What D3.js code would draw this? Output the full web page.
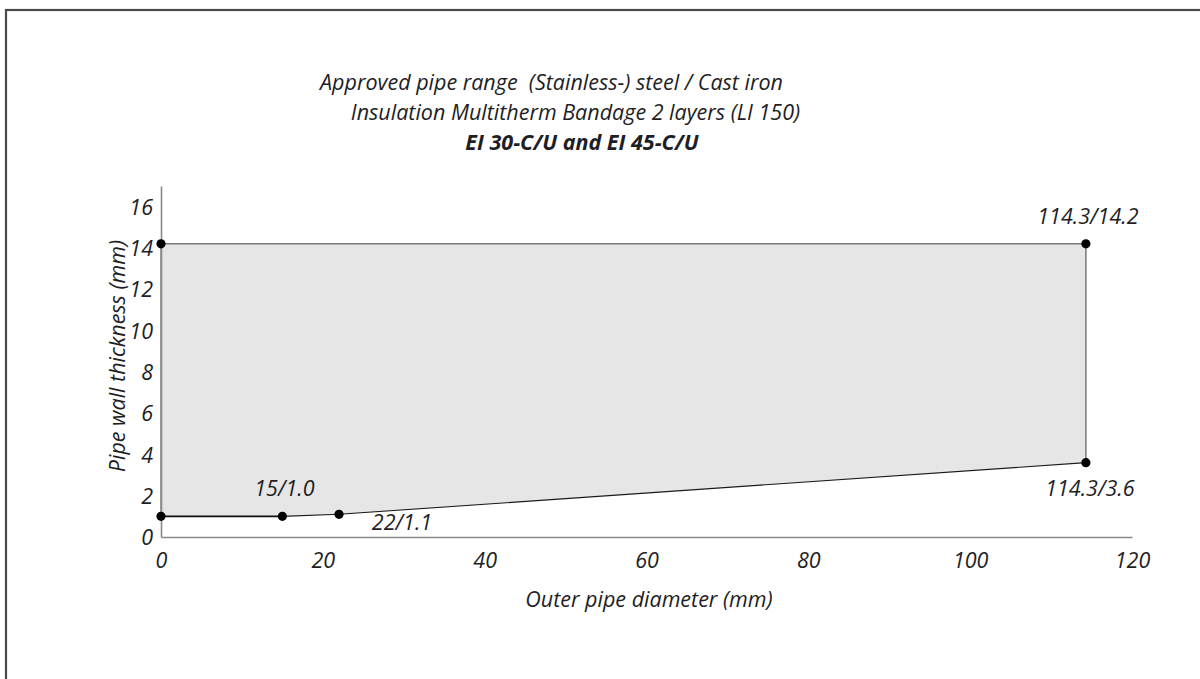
<!DOCTYPE html>
<html><head><meta charset="utf-8">
<script src="https://cdn.jsdelivr.net/npm/d3@7"></script>
<style>
html,body{margin:0;padding:0;background:#fff;}
svg{display:block;}
text{font-family:"Open Sans",sans-serif;font-style:italic;fill:#1e1e24;white-space:pre;}
</style></head>
<body>
<svg id="c" width="1200" height="679"></svg>
<script>
const titleLines = ["Approved pipe range  (Stainless-) steel / Cast iron", "Insulation Multitherm Bandage 2 layers (LI 150)", "EI 30-C/U and EI 45-C/U"];
const xLabel = "Outer pipe diameter (mm)";
const yLabel = "Pipe wall thickness (mm)";
const xTicks = [0, 20, 40, 60, 80, 100, 120];
const yTicks = [0, 2, 4, 6, 8, 10, 12, 14, 16];
// boundary of approved range: outer diameter / wall thickness
const diameters = [0, 15, 22, 114.3, 114.3, 0];
const thickness = [1.0, 1.0, 1.1, 3.6, 14.2, 14.2];
const pointLabels = ["", "15/1.0", "22/1.1", "114.3/3.6", "114.3/14.2", ""];

const svg = d3.select("#c");
const x = d3.scaleLinear().domain([0, 120]).range([161, 1132]);
const y = d3.scaleLinear().domain([0, 17]).range([537, 186]);
const FS = 21.5;

// frame
svg.append("rect").attr("x", 6).attr("y", 10).attr("width", 1300).attr("height", 800)
  .attr("fill", "none").attr("stroke", "#4a4a4a").attr("stroke-width", 2.2);

const pts = diameters.map((d, i) => ({x: d, y: thickness[i], label: pointLabels[i]}));

// filled region
svg.append("path").datum(pts)
  .attr("d", d3.line().x(d => x(d.x)).y(d => y(d.y)).curve(d3.curveLinearClosed))
  .attr("fill", "#e6e6e6").attr("stroke", "none");

// axes (no tick marks)
const xAxis = svg.append("g").attr("transform", `translate(0,${y(0)})`)
  .call(d3.axisBottom(x).tickValues(xTicks).tickSize(0).tickPadding(0).tickFormat(d3.format("d")));
xAxis.select(".domain").attr("stroke", "#8a8a8a").attr("stroke-width", 1.6);
xAxis.selectAll("text").attr("y", 31).attr("dy", 0).attr("font-size", FS)
  .style("font-family", "'Open Sans', sans-serif").style("font-style", "italic").attr("fill", "#1e1e24");

const yAxis = svg.append("g").attr("transform", `translate(${x(0)},0)`)
  .call(d3.axisLeft(y).tickValues(yTicks).tickSize(0).tickPadding(0).tickFormat(d3.format("d")));
yAxis.select(".domain").attr("stroke", "#8a8a8a").attr("stroke-width", 1.6);
yAxis.selectAll("text").attr("x", -8).attr("dy", "0.36em").attr("font-size", FS)
  .style("font-family", "'Open Sans', sans-serif").style("font-style", "italic").attr("fill", "#1e1e24");

// boundary edges
const seg = (a, b, col, w) => svg.append("line")
  .attr("x1", x(pts[a].x)).attr("y1", y(pts[a].y)).attr("x2", x(pts[b].x)).attr("y2", y(pts[b].y))
  .attr("stroke", col).attr("stroke-width", w);
seg(5, 0, "#8a8a8a", 1.6);
seg(4, 5, "#7a7a7a", 1.6);
seg(3, 4, "#8a8a8a", 1.8);
seg(2, 3, "#1a1a1a", 1.1);
seg(1, 2, "#1a1a1a", 1.1);
seg(0, 1, "#111", 1.8);

// points
svg.selectAll("circle.pt").data(pts).enter().append("circle")
  .attr("cx", d => x(d.x)).attr("cy", d => y(d.y)).attr("r", 4.6).attr("fill", "#000");

// point labels
const offsets = {"15/1.0": [2, -20], "22/1.1": [63, 15.5], "114.3/3.6": [4, 33.5], "114.3/14.2": [2, -19.5]};
svg.selectAll("text.pl").data(pts.filter(d => d.label)).enter().append("text")
  .attr("class", "pl")
  .attr("x", d => x(d.x) + offsets[d.label][0])
  .attr("y", d => y(d.y) + offsets[d.label][1])
  .attr("text-anchor", "middle").attr("font-size", FS).text(d => d.label);

// titles
const tpos = [[551.5, 90, "normal"], [575.5, 120, "normal"], [582, 150, "bold"]];
titleLines.forEach((t, i) => {
  svg.append("text").attr("x", tpos[i][0]).attr("y", tpos[i][1]).attr("text-anchor", "middle")
    .attr("font-size", FS).attr("font-weight", tpos[i][2]).text(t);
});

// axis titles
svg.append("text").attr("x", 649).attr("y", 607).attr("text-anchor", "middle")
  .attr("font-size", FS).text(xLabel);
svg.append("text").attr("transform", "translate(125,356) rotate(-90)").attr("text-anchor", "middle")
  .attr("font-size", FS).text(yLabel);
</script>
</body></html>
